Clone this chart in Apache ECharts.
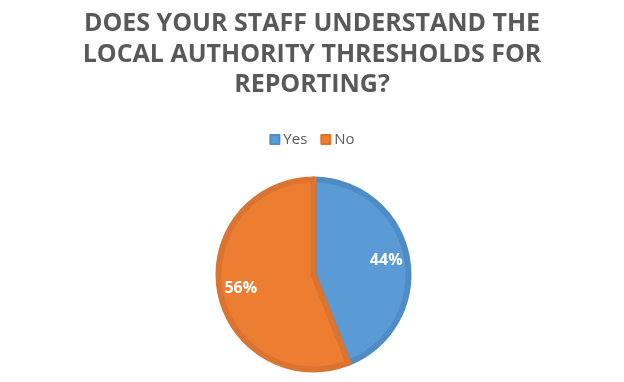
<!DOCTYPE html>
<html><head><meta charset="utf-8">
<script src="https://cdn.jsdelivr.net/npm/echarts@6/dist/echarts.min.js"></script>
<style>html,body{margin:0;padding:0;background:#fff}#c{width:624px;height:382px}</style>
</head><body><div id="c"></div>
<script>
var titleText = "DOES YOUR STAFF UNDERSTAND THE\nLOCAL AUTHORITY THRESHOLDS FOR\nREPORTING?";
var categories = ["Yes", "No"];
var values = [44, 56];
var fillColors = ["#5B9BD5", "#ED7D31"];
var borderColors = ["#4F8CC6", "#DA7430"];

var chart = echarts.init(document.getElementById('c'));
var mainData = categories.map(function(n, i){
  return {name: n, value: values[i], itemStyle: {color: fillColors[i], borderColor: borderColors[i]}};
});
var labelData = categories.map(function(n, i){
  return {name: n, value: values[i]};
});
chart.setOption({
  animation: false,
  title: {
    text: titleText, left: 'center', top: 4,
    textStyle: {fontFamily: 'Open Sans', fontWeight: 'bold', fontSize: 25, color: '#595959', lineHeight: 30.5}
  },
  legend: {
    data: categories, top: 127, left: 'center', itemWidth: 9, itemHeight: 9, itemGap: 13,
    icon: 'rect',
    textStyle: {fontFamily: 'Open Sans', fontSize: 15, color: '#595959', padding: [0,0,0,-1]}
  },
  series: [{
    type: 'pie', center: [313.5, 274.5], radius: [0, 95], startAngle: 90, clockwise: true,
    data: mainData, silent: true,
    itemStyle: {borderWidth: 6},
    label: {show: false}, labelLine: {show: false}
  }, {
    type: 'pie', center: [313.5, 274.5], radius: [46, 96], startAngle: 90, clockwise: true,
    data: labelData, silent: true,
    itemStyle: {color: 'rgba(0,0,0,0)', borderWidth: 0},
    label: {show: true, position: 'inside', formatter: '{c}%', color: '#fff',
      fontFamily: 'Open Sans', fontWeight: 'bold', fontSize: 16},
    labelLine: {show: false}
  }]
});
</script></body></html>
